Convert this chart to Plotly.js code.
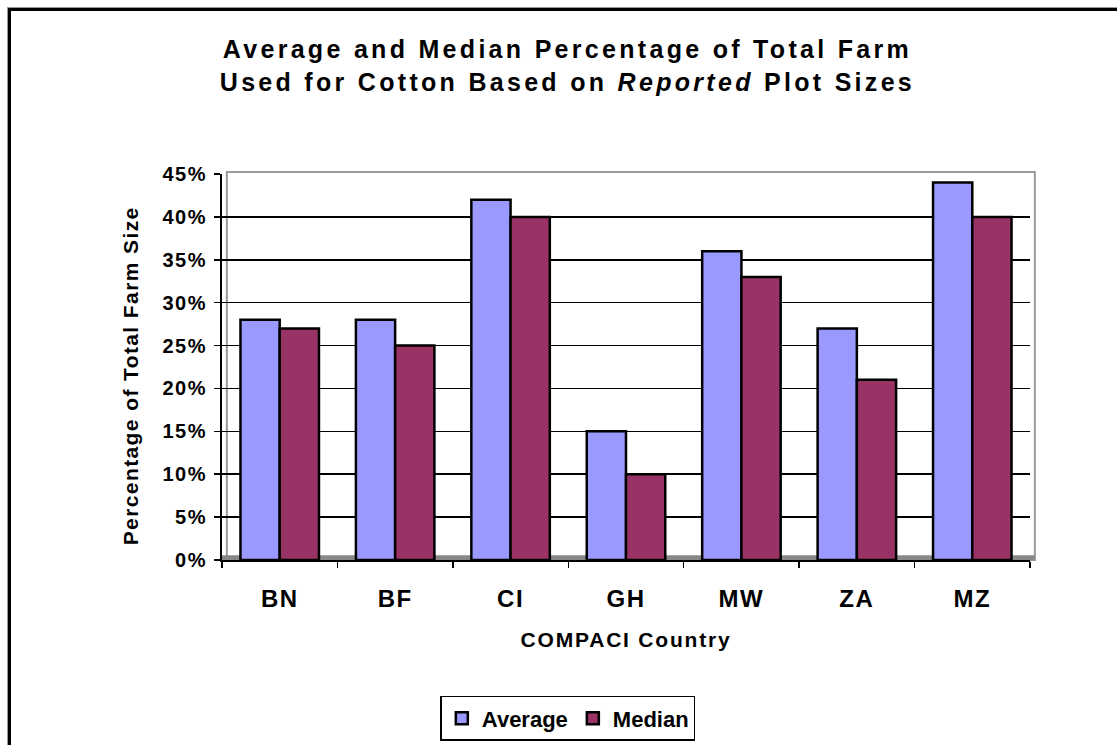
<!DOCTYPE html>
<html>
<head>
<meta charset="utf-8">
<script src="https://cdn.plot.ly/plotly-3.0.1.min.js"></script>
<style>
  html, body { margin: 0; padding: 0; background: #ffffff; }
  #wrap { position: relative; width: 1117px; height: 745px; overflow: hidden; }
  #chart { width: 1117px; height: 745px; }
  /* outer frame around the chart area */
  #frame {
    position: absolute; left: 8px; top: 8px; width: 1200px; height: 900px;
    border-left: 3px solid #000; border-top: 3px solid #000;
    box-shadow: -1px -1px 0 #999; pointer-events: none;
  }
  /* widened character spacing for the chart texts */
  #chart .gtitle { letter-spacing: 3.3px; }
  #chart .ytick text { letter-spacing: 1.5px; }
  #chart .xtick text { letter-spacing: 1.5px; }
  #chart .xtitle { letter-spacing: 1.8px; }
  #chart .annotation-text { letter-spacing: 1.4px; }
</style>
</head>
<body>
<div id="wrap">
  <div id="chart"></div>
  <div id="frame"></div>
</div>
<script>
// Countries participating in COMPACI
const countries = ['BN', 'BF', 'CI', 'GH', 'MW', 'ZA', 'MZ'];
// Share of total farm used for cotton (%), reported plot sizes
const averageShare = [28, 28, 42, 15, 36, 27, 44];
const medianShare = [27, 25, 40, 10, 33, 21, 40];
const yTicks = [0, 5, 10, 15, 20, 25, 30, 35, 40, 45];

const FONT = 'Liberation Sans, Arial, sans-serif';

const traces = [
  {
    type: 'bar', name: 'Average', x: countries, y: averageShare,
    marker: { color: '#9999FF', line: { color: '#000000', width: 2.5 } },
    hoverinfo: 'skip'
  },
  {
    type: 'bar', name: 'Median', x: countries, y: medianShare,
    marker: { color: '#993366', line: { color: '#000000', width: 2.5 } },
    hoverinfo: 'skip'
  }
];

const layout = {
  width: 1117, height: 745,
  paper_bgcolor: '#ffffff', plot_bgcolor: '#ffffff',
  margin: { l: 222, r: 87, t: 174, b: 185, autoexpand: false },
  font: { family: FONT, color: '#000000' },
  title: {
    text: 'Average and Median Percentage of Total Farm<br>Used for Cotton Based on <i>Reported</i> Plot Sizes',
    font: { family: FONT, size: 25, weight: 'bold', color: '#000000' },
    x: 0.508, xref: 'container', xanchor: 'center',
    y: 0.922, yref: 'container', yanchor: 'middle'
  },
  barmode: 'group', bargap: 0.32, bargroupgap: 0,
  xaxis: {
    type: 'category', tickson: 'boundaries', automargin: false,
    ticks: 'outside', ticklen: 6, tickwidth: 1.5, tickcolor: '#000',
    showline: true, linecolor: '#000', linewidth: 2,
    showgrid: false, zeroline: false,
    tickfont: { family: FONT, size: 24, weight: 'bold' },
    ticklabelstandoff: 16,
    title: {
      text: 'COMPACI Country', standoff: 22,
      font: { family: FONT, size: 21, weight: 'bold' }
    }
  },
  yaxis: {
    range: [0, 45], tickmode: 'array', tickvals: yTicks, automargin: false,
    ticktext: yTicks.map(v => v + '%'),
    ticks: 'outside', ticklen: 6, tickwidth: 1.5, tickcolor: '#000',
    showline: true, linecolor: '#000', linewidth: 2,
    showgrid: true, gridcolor: '#000000', gridwidth: 1.5,
    zeroline: false,
    tickfont: { family: FONT, size: 20, weight: 'bold' },
    ticklabelstandoff: 3
  },
  // vertical axis title, placed beside the tick labels
  annotations: [
    {
      text: 'Percentage of Total Farm Size', textangle: -90,
      xref: 'paper', yref: 'paper', x: -0.1126, y: 0.4767,
      xanchor: 'center', yanchor: 'middle', showarrow: false,
      font: { family: FONT, size: 21, weight: 'bold', color: '#000000' }
    }
  ],
  showlegend: true,
  legend: {
    orientation: 'h', x: 0.428, xanchor: 'center', y: -0.352, yanchor: 'top',
    bordercolor: '#000', borderwidth: 1.5, bgcolor: '#ffffff',
    font: { family: FONT, size: 22, weight: 'bold' },
    itemwidth: 30, tracegroupgap: 0
  },
  shapes: [
    // back wall outline
    { type: 'rect', xref: 'paper', yref: 'paper', x0: 0.006, x1: 1.006, y0: 0, y1: 1.005,
      line: { color: '#999999', width: 2 }, layer: 'below' },
    // grey floor strip
    { type: 'rect', xref: 'paper', yref: 'paper', x0: 0, x1: 1.006, y0: 0, y1: 0.012,
      line: { width: 0 }, fillcolor: '#888888', layer: 'below' }
  ]
};

Plotly.newPlot('chart', traces, layout, { staticPlot: true, displayModeBar: false });
</script>
</body>
</html>
